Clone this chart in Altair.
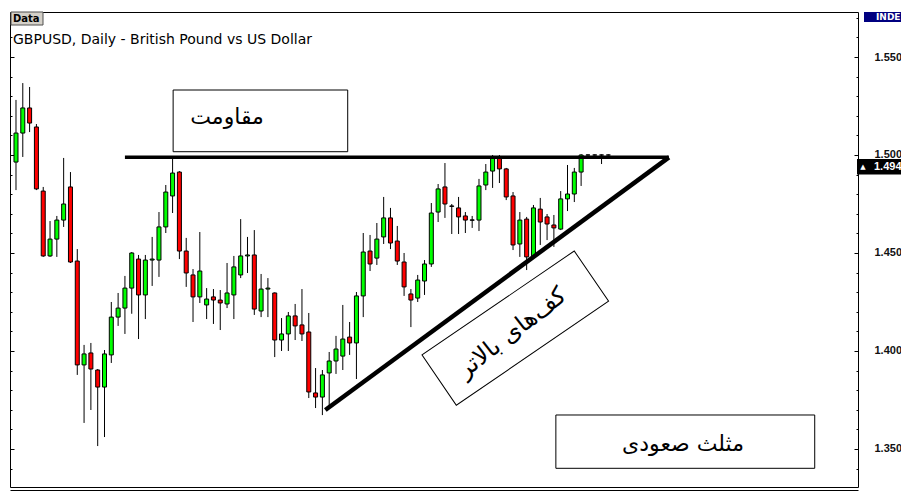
import altair as alt
import pandas as pd

# ---------------- data ----------------
opens = [1.4964, 1.5112, 1.5240, 1.5143, 1.4816, 1.4485, 1.4571, 1.4668, 1.4837, 1.4459,
         1.3929, 1.3990, 1.3903, 1.3816, 1.3980, 1.4173, 1.4219, 1.4321, 1.4469, 1.4286,
         1.4464, 1.4464, 1.4633, 1.4791, 1.4913, 1.4510, 1.4388, 1.4276, 1.4235, 1.4276,
         1.4260, 1.4240, 1.4286, 1.4388, 1.4485, 1.4490, 1.4204, 1.4316, 1.4296, 1.4056,
         1.4087, 1.4179, 1.4133, 1.4097, 1.3786, 1.3765, 1.3888, 1.3949, 1.3974, 1.4071,
         1.4041, 1.4281, 1.4510, 1.4474, 1.4582, 1.4679, 1.4561, 1.4454, 1.4291, 1.4270,
         1.4357, 1.4444, 1.4709, 1.4837, 1.4740, 1.4730, 1.4689, 1.4669, 1.4668, 1.4847,
         1.4918, 1.4990, 1.4929, 1.4791, 1.4546, 1.4673, 1.4485, 1.4724, 1.4684, 1.4643,
         1.4622, 1.4776, 1.4801, 1.4913, 1.5000, 1.5000, 1.5000, 1.5000]
highs = [1.5281, 1.5367, 1.5347, 1.5158, 1.4837, 1.4663, 1.4689, 1.4985, 1.4913, 1.4520,
         1.4031, 1.4041, 1.3908, 1.4005, 1.4250, 1.4296, 1.4383, 1.4505, 1.4490, 1.4490,
         1.4582, 1.4709, 1.4847, 1.4980, 1.4918, 1.4577, 1.4418, 1.4607, 1.4321, 1.4316,
         1.4311, 1.4449, 1.4485, 1.4673, 1.4582, 1.4617, 1.4393, 1.4372, 1.4299, 1.4168,
         1.4199, 1.4240, 1.4316, 1.4194, 1.3913, 1.3903, 1.3995, 1.4077, 1.4235, 1.4148,
         1.4301, 1.4602, 1.4592, 1.4653, 1.4786, 1.4730, 1.4638, 1.4500, 1.4316, 1.4388,
         1.4464, 1.4755, 1.4852, 1.4959, 1.4750, 1.4786, 1.4709, 1.4689, 1.4878, 1.4954,
         1.5000, 1.5000, 1.4934, 1.4811, 1.4709, 1.4684, 1.4745, 1.4781, 1.4699, 1.4694,
         1.4816, 1.4949, 1.4934, 1.5005, 1.5003, 1.5003, 1.5003, 1.5003]
lows = [1.4821, 1.4990, 1.5117, 1.4821, 1.4480, 1.4480, 1.4480, 1.4633, 1.4449, 1.3878,
        1.3633, 1.3699, 1.3515, 1.3561, 1.3939, 1.4128, 1.4087, 1.4190, 1.4061, 1.4163,
        1.4332, 1.4378, 1.4602, 1.4704, 1.4469, 1.4327, 1.4148, 1.4245, 1.4163, 1.4138,
        1.4107, 1.4219, 1.4163, 1.4372, 1.4398, 1.4184, 1.4173, 1.4173, 1.3969, 1.4000,
        1.4000, 1.4056, 1.4051, 1.3760, 1.3709, 1.3673, 1.3709, 1.3883, 1.3903, 1.3980,
        1.3857, 1.4173, 1.4408, 1.4439, 1.4546, 1.4520, 1.4439, 1.4281, 1.4122, 1.4250,
        1.4286, 1.4429, 1.4658, 1.4679, 1.4597, 1.4597, 1.4602, 1.4628, 1.4612, 1.4821,
        1.4832, 1.4857, 1.4770, 1.4515, 1.4480, 1.4413, 1.4474, 1.4541, 1.4566, 1.4531,
        1.4617, 1.4714, 1.4760, 1.4842, 1.4997, 1.4997, 1.4954, 1.4997]
closes = [1.5112, 1.5240, 1.5163, 1.4827, 1.4485, 1.4571, 1.4668, 1.4750, 1.4454, 1.3929,
          1.3985, 1.3908, 1.3816, 1.3985, 1.4173, 1.4219, 1.4321, 1.4500, 1.4286, 1.4464,
          1.4469, 1.4633, 1.4811, 1.4908, 1.4510, 1.4398, 1.4276, 1.4408, 1.4265, 1.4260,
          1.4245, 1.4296, 1.4429, 1.4485, 1.4490, 1.4214, 1.4316, 1.4321, 1.4056, 1.4087,
          1.4179, 1.4128, 1.4087, 1.3791, 1.3765, 1.3878, 1.3949, 1.4010, 1.4061, 1.4041,
          1.4281, 1.4505, 1.4444, 1.4571, 1.4679, 1.4551, 1.4459, 1.4327, 1.4260, 1.4362,
          1.4444, 1.4704, 1.4827, 1.4750, 1.4738, 1.4684, 1.4668, 1.4667, 1.4842, 1.4913,
          1.4990, 1.4929, 1.4786, 1.4541, 1.4668, 1.4480, 1.4730, 1.4658, 1.4648, 1.4628,
          1.4776, 1.4801, 1.4913, 1.5000, 1.5000, 1.5000, 1.5000, 1.5000]

TITLE = "GBPUSD, Daily - British Pound vs US Dollar"
TAG_PRICE = [1.494]
TAG_TEXT = ["1.494"]

# resistance (horizontal) and rising support line, in bar-index / price units
resistance_x = [16.0]
resistance_x2 = [95.89]
resistance_y = [1.4988]
support_x = [45.43, 95.89]
support_y = [1.3699, 1.4988]

# annotation boxes (bar-index / price units)
box_x = [23.08, 79.29]
box_x2 = [48.72, 117.31]
box_y = [1.53316, 1.36735]
box_y2 = [1.50168, 1.34015]
box_text_x = [31.0, 97.97]
box_text_y = [1.51939, 1.35255]
box_labels = ["مقاومت", "مثلث صعودی"]

rot_box_x = [73.33]
rot_box_y = [1.41168]
rot_text_x = [72.86]
rot_text_y = [1.40918]
rot_label = ["کف‌های بالاتر"]

tick_values = [round(1.34 + 0.01 * k, 2) for k in range(24)]
label_values = [1.35, 1.40, 1.45, 1.50, 1.55]

# ---------------- frames ----------------
def direction(o, c):
    if c > o + 0.0003:
        return "up"
    if c < o - 0.0003:
        return "down"
    return "flat"

candles = pd.DataFrame({
    "i": list(range(len(opens))),
    "o": opens, "h": highs, "l": lows, "c": closes,
    "dir": [direction(o, c) for o, c in zip(opens, closes)],
})

X_DOMAIN = [-0.145, 122.93]
Y_DOMAIN = [1.33061, 1.57296]
xs = alt.Scale(domain=X_DOMAIN, nice=False, zero=False)
ys = alt.Scale(domain=Y_DOMAIN, nice=False, zero=False)

is_major = "abs(datum.value * 20 - round(datum.value * 20)) < 0.001"
tick_size = {"condition": {"test": is_major, "value": 4}, "value": 2}

axis_labels = alt.Axis(orient="right", values=label_values, format=".3f", ticks=False,
                       tickSize=0, domain=False, grid=False, labelPadding=16,
                       labelFont="Liberation Sans", labelFontWeight="bold", labelFontSize=11,
                       labelColor="#111111", title=None)
axis_right_ticks = alt.Axis(orient="left", offset=-848, values=tick_values, labels=False,
                            domain=False, grid=False, tickColor="black", tickWidth=1,
                            tickSize=tick_size, title=None)
axis_left_ticks = alt.Axis(orient="right", offset=-848, values=tick_values, labels=False,
                           domain=False, grid=False, tickColor="black", tickWidth=1,
                           tickSize=tick_size, title=None)
axis_bottom = alt.Axis(orient="bottom", offset=3, domain=True, domainColor="black",
                       domainWidth=1, ticks=False, labels=False, grid=False, title=None)

wicks = alt.Chart(candles).mark_rule(color="black", strokeWidth=1).encode(
    x=alt.X("i:Q", scale=xs, axis=axis_bottom),
    y=alt.Y("l:Q", scale=ys, axis=axis_labels),
    y2="h:Q",
)

bodies = alt.Chart(candles).mark_bar(size=4, stroke="black", strokeWidth=1).encode(
    x=alt.X("i:Q", scale=xs, axis=None),
    y=alt.Y("o:Q", scale=ys, axis=axis_right_ticks),
    y2="c:Q",
    color=alt.Color("dir:N", scale=alt.Scale(domain=["up", "down", "flat"],
                                             range=["#00ff00", "#ff0000", "#000000"]),
                    legend=None),
)

res_df = pd.DataFrame({"x": resistance_x, "x2": resistance_x2, "y": resistance_y})
resistance = alt.Chart(res_df).mark_rule(color="black", strokeWidth=3.5).encode(
    x=alt.X("x:Q", scale=xs, axis=None),
    x2="x2:Q",
    y=alt.Y("y:Q", scale=ys, axis=axis_left_ticks),
)

sup_df = pd.DataFrame({"x": support_x, "y": support_y})
support = alt.Chart(sup_df).mark_line(color="black", strokeWidth=4.5).encode(
    x=alt.X("x:Q", scale=xs, axis=None),
    y=alt.Y("y:Q", scale=ys, axis=None),
)

box_df = pd.DataFrame({"x": box_x, "x2": box_x2, "y": box_y, "y2": box_y2})
boxes = alt.Chart(box_df).mark_rect(fill="white", stroke="black", strokeWidth=1).encode(
    x=alt.X("x:Q", scale=xs, axis=None), x2="x2:Q",
    y=alt.Y("y:Q", scale=ys, axis=None), y2="y2:Q",
)

btxt_df = pd.DataFrame({"x": box_text_x, "y": box_text_y, "t": box_labels})
box_texts = alt.Chart(btxt_df).mark_text(font="DejaVu Sans", fontSize=22, color="black",
                                         align="center", baseline="middle").encode(
    x=alt.X("x:Q", scale=xs, axis=None),
    y=alt.Y("y:Q", scale=ys, axis=None),
    text="t:N",
)

rot_df = pd.DataFrame({"x": rot_box_x, "y": rot_box_y})
rot_box = alt.Chart(rot_df).mark_point(
    shape="M-1,-0.33L1,-0.33L1,0.33L-1,0.33Z", size=34003, angle=325.67,
    filled=True, fill="white", stroke="black", strokeWidth=1, opacity=1,
).encode(
    x=alt.X("x:Q", scale=xs, axis=None),
    y=alt.Y("y:Q", scale=ys, axis=None),
)

rtxt_df = pd.DataFrame({"x": rot_text_x, "y": rot_text_y, "t": rot_label})
rot_text = alt.Chart(rtxt_df).mark_text(font="DejaVu Sans", fontSize=24, color="black",
                                        angle=322, align="center", baseline="middle").encode(
    x=alt.X("x:Q", scale=xs, axis=None),
    y=alt.Y("y:Q", scale=ys, axis=None),
    text="t:N",
)

tag_df = pd.DataFrame({"y": TAG_PRICE, "t": TAG_TEXT, "a": ["▲"]})
tag_box = alt.Chart(tag_df).mark_point(
    shape="M-1,-0.26L1,-0.26L1,0.26L-1,0.26Z", size=2704, filled=True,
    fill="black", stroke="black", opacity=1,
).encode(x=alt.value(874), y=alt.Y("y:Q", scale=ys, axis=None))
tag_text = alt.Chart(tag_df).mark_text(font="Liberation Sans", fontWeight="bold", fontSize=11,
                                       color="white", align="left", baseline="middle").encode(
    x=alt.value(864), y=alt.Y("y:Q", scale=ys, axis=None), text="t:N")
tag_arrow = alt.Chart(tag_df).mark_text(font="DejaVu Sans", fontSize=7, color="white",
                                        align="center", baseline="middle").encode(
    x=alt.value(853), y=alt.Y("y:Q", scale=ys, axis=None), text="a:N")

head_df = pd.DataFrame({"t": [TITLE], "d": ["Data"], "n": ["INDE"]})
data_box = alt.Chart(head_df).mark_rect(fill="#d4d0c8", stroke="#505050", strokeWidth=1).encode(
    x=alt.value(1), x2=alt.value(33), y=alt.value(0), y2=alt.value(13))
data_text = alt.Chart(head_df).mark_text(font="DejaVu Sans", fontWeight="bold", fontSize=10,
                                         color="black", align="left", baseline="middle").encode(
    x=alt.value(3), y=alt.value(7), text="d:N")
title_text = alt.Chart(head_df).mark_text(font="DejaVu Sans", fontSize=14, color="black",
                                          align="left", baseline="middle").encode(
    x=alt.value(3), y=alt.value(28), text="t:N")
inde_box = alt.Chart(head_df).mark_rect(fill="#000080").encode(
    x=alt.value(854), x2=alt.value(895), y=alt.value(0), y2=alt.value(10))
inde_text = alt.Chart(head_df).mark_text(font="DejaVu Sans", fontWeight="bold", fontSize=9,
                                         color="white", align="left", baseline="middle").encode(
    x=alt.value(866), y=alt.value(5), text="n:N")

chart = alt.layer(
    wicks, bodies, resistance, support, boxes, box_texts, rot_box, rot_text,
    tag_box, tag_text, tag_arrow, data_box, data_text, title_text, inde_box, inde_text,
).resolve_axis(x="independent", y="independent").properties(
    width=848, height=475,
    autosize=alt.AutoSizeParams(type="none"),
    padding={"left": 2, "top": 4, "right": 43, "bottom": 5},
    background="white",
).configure_view(stroke="black", strokeWidth=1)

chart.save("out.html", embed_options={"renderer": "svg", "actions": False})
